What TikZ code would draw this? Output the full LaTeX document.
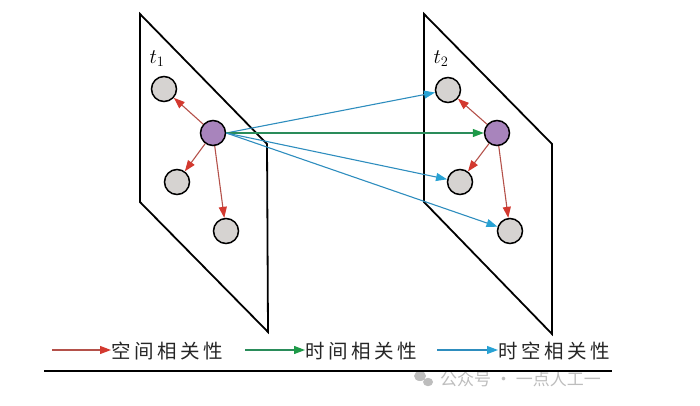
\documentclass[tikz,border=0pt]{standalone}
\usepackage{fontspec}
\newfontfamily\cjk{Noto Sans CJK SC}
\usetikzlibrary{arrows.meta}
\definecolor{pgray}{HTML}{D6D3D1}
\definecolor{ppurple}{HTML}{A884BC}
\definecolor{redl}{HTML}{B4514A}
\definecolor{redh}{HTML}{D3392F}
\definecolor{greenl}{HTML}{2A8C5A}
\definecolor{greenh}{HTML}{1E9A48}
\definecolor{bluel}{HTML}{2E8DBE}
\definecolor{blueh}{HTML}{28A2D4}
\definecolor{wmark}{HTML}{BDBDBD}
\tikzset{
  plane/.style={draw=black, line width=1.8pt, line join=miter},
  gnode/.style={circle, draw=black, line width=1.5pt, fill=pgray, minimum size=25pt, inner sep=0pt},
  pnode/.style={circle, draw=black, line width=1.5pt, fill=ppurple, minimum size=25pt, inner sep=0pt},
  sarrow/.style={draw=redl, line width=1.1pt, -{Triangle[length=11pt,width=8pt,color=redh]}},
  tarrow/.style={draw=greenl, line width=1.2pt, -{Triangle[length=11pt,width=8pt,color=greenh]}},
  starrow/.style={draw=bluel, line width=1.1pt, -{Triangle[length=11pt,width=8pt,color=blueh]}},
  legtext/.style={font=\cjk\fontsize{19.5}{19.5}\selectfont\addfontfeature{LetterSpace=18}, anchor=west, inner sep=0pt, text=black!85},
  tlabel/.style={font=\fontsize{20}{20}\selectfont, inner sep=0pt},
  wtext/.style={font=\cjk\fontsize{17}{17}\selectfont, text=wmark, anchor=west, inner sep=0pt}
}
\begin{document}
\begin{tikzpicture}[x=1pt, y=-1pt]
\useasboundingbox (0,0) rectangle (700,406);
% planes
\draw[plane] (140,14) -- (267,144) -- (268,332) -- (140,202) -- cycle;
\draw[plane] (424,14) -- (552,144) -- (552,334) -- (424,202) -- cycle;
\node[tlabel] (t1) at (157,59) {$t_1$};
\node[tlabel] (t2) at (441,59) {$t_2$};
% nodes left
\node[gnode] (la) at (164,89) {};
\node[pnode] (lp) at (213,133) {};
\node[gnode] (lb) at (177,182) {};
\node[gnode] (lc) at (226,231) {};
% nodes right
\node[gnode] (ra) at (448,90) {};
\node[pnode] (rp) at (497,133) {};
\node[gnode] (rb) at (460,182) {};
\node[gnode] (rc) at (510,231) {};
% spatial arrows
\draw[sarrow] (lp) -- (la);
\draw[sarrow] (lp) -- (lb);
\draw[sarrow] (lp) -- (lc);
\draw[sarrow] (rp) -- (ra);
\draw[sarrow] (rp) -- (rb);
\draw[sarrow] (rp) -- (rc);
% temporal / spatio-temporal arrows
\coordinate (src) at (lp.east);
\draw[starrow] (src) -- (ra);
\draw[tarrow] (src) -- (rp);
\draw[starrow] (src) -- (rb);
\draw[starrow] (src) -- (rc);
% legend
\node[legtext] (l1) at (111,351) {空间相关性};
\node[legtext] (l2) at (305,351) {时间相关性};
\node[legtext] (l3) at (498,351) {时空相关性};
\coordinate (a1) at (52,350);
\coordinate (a2) at (245,350);
\coordinate (a3) at (437,350);
\draw[sarrow] (a1) -- (a1 -| l1.west);
\draw[tarrow] (a2) -- (a2 -| l2.west);
\draw[starrow] (a3) -- (a3 -| l3.west);
% watermark
\fill[wmark] (420,376) ellipse (6pt and 5pt);
\fill[wmark] (428,382) ellipse (5pt and 4.2pt);
\node[wtext] (wm) at (440,379) {公众号 · 一点人工一};
% bottom rule
\coordinate (r1) at (44,371);
\coordinate (r2) at (612,371);
\draw[line width=1.6pt] (r1) -- (r2);
\end{tikzpicture}
\end{document}
